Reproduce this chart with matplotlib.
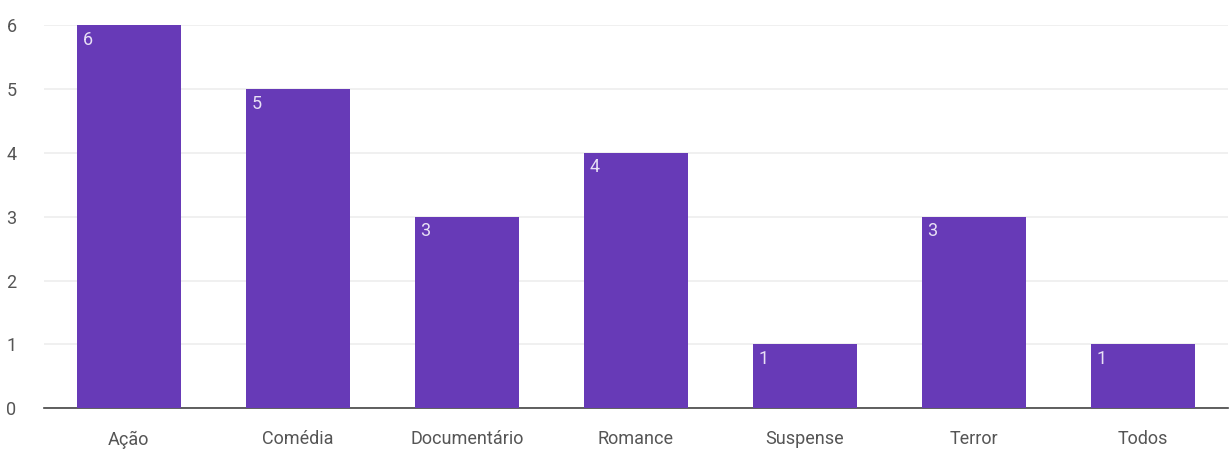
import matplotlib.pyplot as plt

categorias = ['Ação', 'Comédia', 'Documentário', 'Romance', 'Suspense', 'Terror', 'Todos']
valores = [6, 5, 3, 4, 1, 3, 1]

plt.rcParams['font.family'] = ['Roboto', 'DejaVu Sans']

fig = plt.figure(figsize=(12.3, 4.5), dpi=100)
ax = fig.add_axes([0.036, 0.093, 0.962, 0.851])

x = range(len(categorias))
bars = ax.bar(x, valores, width=0.615, color='#673ab7', zorder=3)

# value labels at the top-left inside each bar
for b, v in zip(bars, valores):
    ax.annotate(str(v), (b.get_x(), v), xytext=(4, -4), textcoords='offset points',
                ha='left', va='top', color='#e8e0f5', fontsize=13, zorder=4)

ax.set_xlim(-0.5, len(categorias) - 0.5)
ax.set_ylim(0, 6)
ax.set_yticks(range(7))
ax.set_xticks(list(x))
ax.set_xticklabels(categorias)
ax.grid(axis='y', color='#eeeeee', linewidth=1.2, zorder=0)
for s in ['top', 'right', 'left']:
    ax.spines[s].set_visible(False)
ax.spines['bottom'].set_color('#444444')
ax.spines['bottom'].set_linewidth(1.2)
ax.tick_params(axis='both', length=0, colors='#555555', labelsize=13)
ax.tick_params(axis='y', pad=20)
ax.tick_params(axis='x', pad=16)

fig.savefig('out.png', dpi=100)
